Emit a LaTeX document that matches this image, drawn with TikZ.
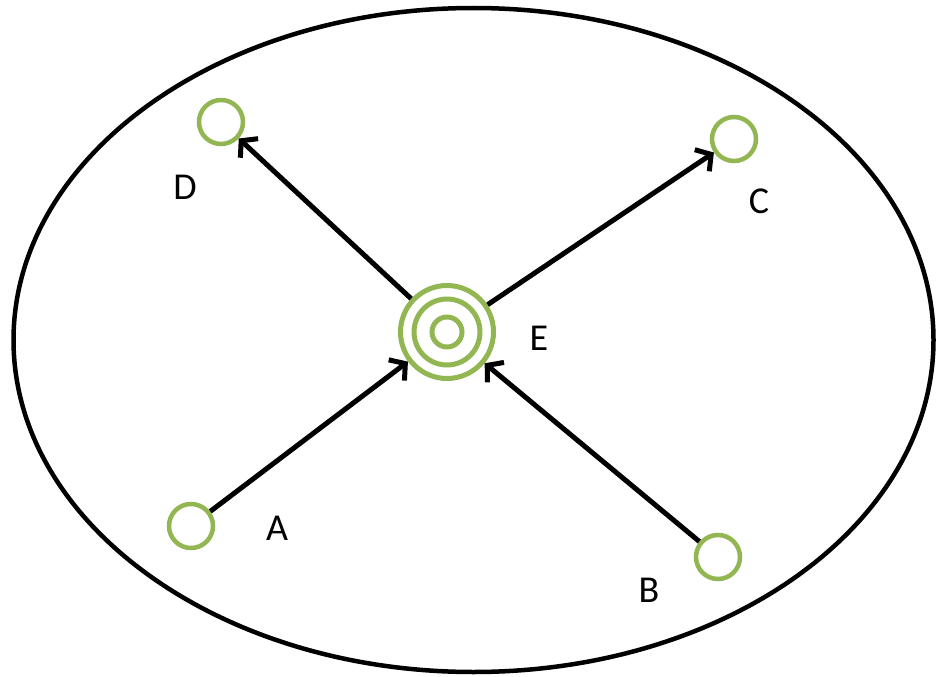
\documentclass[tikz,border=0pt]{standalone}
\usepackage{fontspec}
\setmainfont{Carlito}
\usetikzlibrary{arrows.meta}
\definecolor{ringgreen}{RGB}{146,182,82}

\begin{document}
\begin{tikzpicture}[x=1pt,y=-1pt,
        vertex/.style={circle,draw=ringgreen,line width=4.5pt,minimum size=44pt,inner sep=0pt},
        hub/.style={circle,draw=ringgreen,line width=5pt,minimum size=93pt,inner sep=0pt},
        lbl/.style={font=\fontsize{38}{42}\selectfont,inner sep=0pt},
        edge/.style={line width=5pt,-{Straight Barb[length=11pt,width=26pt]}}]

        \useasboundingbox (0,0) rectangle (937,677);

        % outer boundary
        \draw[line width=4.5pt] (473.5,340) ellipse [x radius=460, y radius=332];

        % centre node with its inner rings
        \node[hub] (e) at (447,332) {};
        \foreach \r in {33,15}{
            \draw[ringgreen,line width=5pt] (e.center) circle [radius=\r];
        }

        % outer nodes
        \node[vertex] (d) at (221,122) {};
        \node[vertex] (c) at (734,139) {};
        \node[vertex] (a) at (191,526) {};
        \node[vertex] (b) at (718,557) {};

        % labels
        \node[lbl] (dlbl) at (185,187) {D};
        \node[lbl] (clbl) at (759,201) {C};
        \node[lbl] (elbl) at (539,338) {E};
        \node[lbl] (albl) at (277,528) {A};
        \node[lbl] (blbl) at (649,590) {B};

        % arrows
        \draw[edge] (e) -- (d);
        \draw[edge] (e) -- (c);
        \draw[edge] (a) -- (e);
        \draw[edge] (b) -- (e);
    \end{tikzpicture}
\end{document}
